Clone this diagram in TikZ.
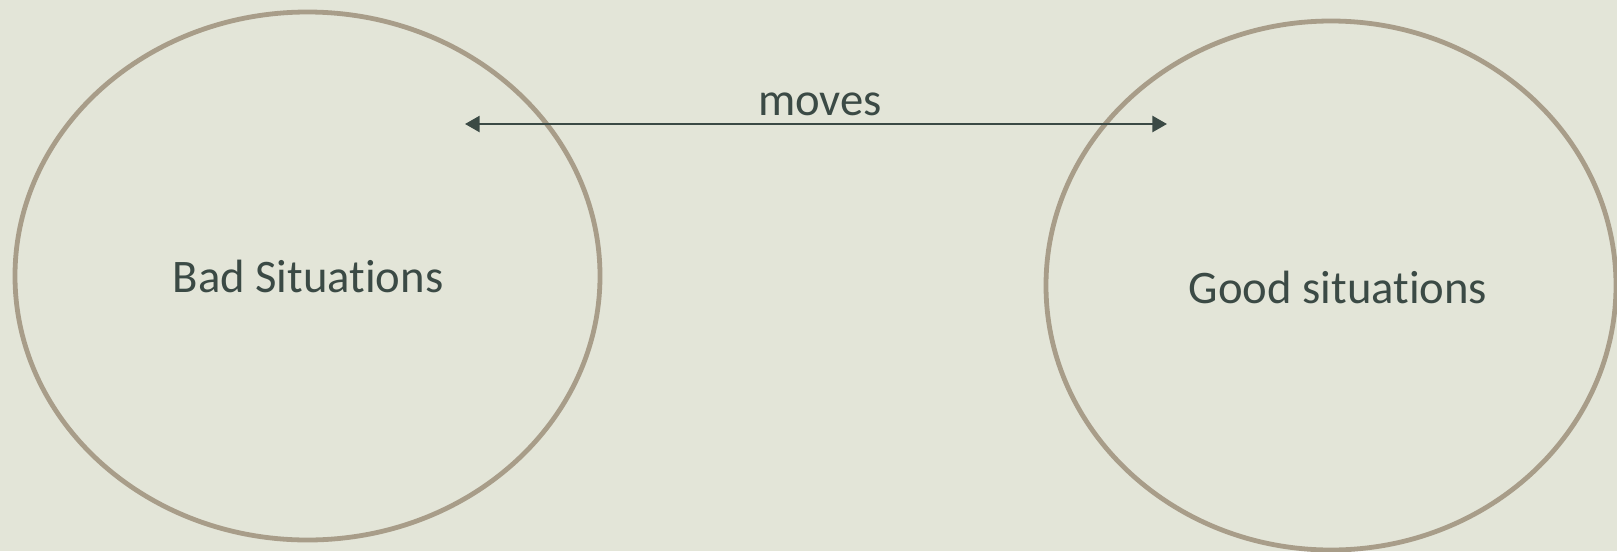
\documentclass[tikz,border=0pt]{standalone}
\usepackage{fontspec}
\setmainfont[Ligatures={NoCommon,NoContextual}]{Carlito}
\usetikzlibrary{shapes.geometric,arrows.meta}
\definecolor{bgc}{RGB}{227,229,216}
\definecolor{ringc}{RGB}{168,157,137}
\definecolor{inkc}{RGB}{59,74,69}
\tikzset{
  ring/.style={ellipse, draw=ringc, line width=3.6pt, inner sep=0pt},
  lbl/.style={anchor=base, text=inkc, inner sep=0pt, font=\fontsize{35}{42}\selectfont},
  link/.style={draw=inkc, line width=1.9pt, {Triangle[length=11pt,width=12pt]}-{Triangle[length=11pt,width=12pt]}}
}
\begin{document}
\begin{tikzpicture}[x=0.75pt,y=-0.75pt]
\fill[bgc] (0,0) rectangle (1617,551);
\useasboundingbox (0,0) rectangle (1617,551);
\node[ring, minimum width=438.75pt, minimum height=396pt] (bad) at (307.5,276) {};
\node[ring, minimum width=427.5pt, minimum height=396.75pt] (good) at (1331,285.5) {};
\node[lbl] (badt) at (308,292.5) {Bad Situations};
\node[lbl] (goodt) at (1338,303) {Good situations};
\node[lbl] (movest) at (820,115) {moves};
\coordinate (la) at (465,124);
\coordinate (lb) at (1167,124);
\draw[link] (la) -- (lb);
\end{tikzpicture}
\end{document}
